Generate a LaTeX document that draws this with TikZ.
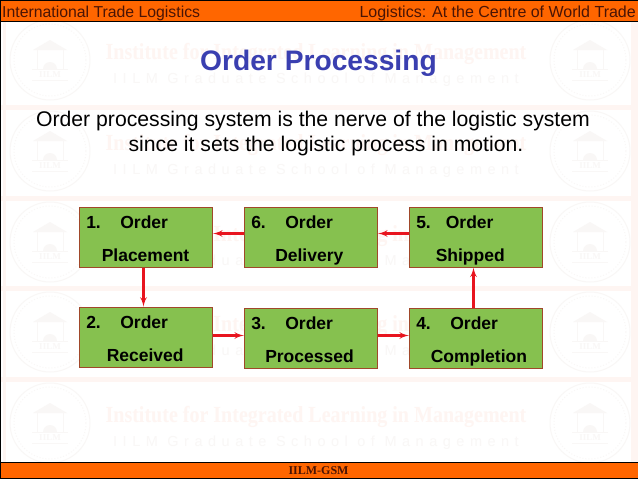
\documentclass[tikz,border=0pt]{standalone}
\usepackage{fontspec}
\setmainfont{Liberation Sans}
\newfontfamily\markfont{Liberation Serif}
\newfontfamily\markspaced[LetterSpace=38]{Liberation Sans}
\usetikzlibrary{arrows}
\definecolor{barorange}{HTML}{FF6600}
\definecolor{barink}{HTML}{4A1405}
\definecolor{titleblue}{HTML}{3A3FB0}
\definecolor{stagegreen}{HTML}{86C14F}
\definecolor{stageedge}{HTML}{A0482A}
\definecolor{flowred}{HTML}{E8141E}
\definecolor{markpink}{HTML}{FEF5F2}
\definecolor{markgrey}{HTML}{F9F7F6}
\tikzstyle{bar}=[draw=black, fill=barorange, line width=0.8pt]
\tikzstyle{stage}=[draw=stageedge, fill=stagegreen, line width=0.9pt, minimum width=133.5pt, minimum height=59.5pt, text width=119.5pt, inner xsep=7pt, inner ysep=0pt, align=left, font=\fontsize{17.5}{33}\selectfont\bfseries]
\tikzstyle{flow}=[->, draw=flowred, line width=2.2pt]
\tikzstyle{body}=[anchor=base, inner sep=0pt, font=\fontsize{21.2}{25}\selectfont]
\tikzstyle{barlabel}=[inner sep=0pt, text=barink, font=\fontsize{15.8}{18}\selectfont]
\newcommand{\stagetext}[4]{\rule{0pt}{15pt}#1\hspace{#2}Order\\\hspace*{#3}\smash{#4}}

\begin{document}
\begin{tikzpicture}[node distance=165pt,auto,>=latex']
    \useasboundingbox (0,0) rectangle (638pt,-479pt);
    \fill[white] (0,0) rectangle (638pt,-479pt);
    \foreach \y in {107,198,288,379}
        \fill[markpink] (0,-\y pt-2.5pt) rectangle (638pt,-\y pt+2.5pt);
    \fill[markpink] (3pt,-21pt) rectangle (6pt,-462pt);
    \fill[markpink] (631pt,-21pt) rectangle (638pt,-462pt);
    \foreach \y in {60,151,242,332,423} {
        \foreach \x in {50,590} {
            \begin{scope}[shift={(\x pt,-\y pt)}, draw=markgrey, line width=1pt]
                \draw (0,0) circle (40pt);
                \draw[dotted] (0,0) circle (36pt);
                \fill[markgrey] (-17pt,10pt) -- (0,20pt) -- (17pt,10pt) -- cycle;
                \fill[markgrey] (-7pt,-9pt) arc (180:0:7pt) -- cycle;
                \draw (-13pt,10pt) -- (-13pt,-9pt);
                \draw (13pt,10pt) -- (13pt,-9pt);
                \draw (-18pt,-9pt) -- (18pt,-9pt);
                \draw (-18pt,-20pt) -- (18pt,-20pt);
                \node[text=markgrey, inner sep=0pt, font=\markfont\bfseries\fontsize{9}{10}\selectfont] (logo\x\y) at (0,-15pt) {IILM};
            \end{scope}
        }
        \node[anchor=base, xscale=0.87, inner sep=0pt, text=markpink, font=\markfont\bfseries\fontsize{23}{26}\selectfont] (markname\y) at (316pt,-\y pt+1pt) {Institute for Integrated Learning in Management};
        \node[anchor=base, inner sep=0pt, text=markgrey, font=\markspaced\fontsize{14.5}{16}\selectfont] (markschool\y) at (316pt,-\y pt-23pt) {IILM Graduate School of Management};
    }
    \fill[black] (0,-21pt) rectangle (1pt,-462pt);
    \node [bar, minimum width=638pt, minimum height=20.5pt, inner sep=0pt] (topbar) at (319pt,-10.8pt) {};
    \node [bar, minimum width=638pt, minimum height=16pt, inner sep=0pt] (footbar) at (319pt,-470pt) {};
    \node [barlabel, anchor=base west] (topic) at (2pt,-17pt) {International Trade Logistics};
    \node [barlabel, anchor=base east, font=\fontsize{16}{18}\selectfont] (chapter) at (636pt,-17pt) {Logistics: At the Centre of World Trade};
    \node [anchor=base, inner sep=0pt, text=barink, font=\markfont\bfseries\fontsize{12}{14}\selectfont] (school) at (318.5pt,-474.5pt) {IILM-GSM};
    \node [anchor=base, inner sep=0pt, text=titleblue, font=\fontsize{28.2}{32}\selectfont\bfseries] (title) at (318.5pt,-70pt) {Order Processing};
    \node [body] (line1) at (313pt,-126.5pt) {Order processing system is the nerve of the logistic system};
    \node [body] (line2) at (326pt,-151.5pt) {since it sets the logistic process in motion.};
    \node [stage] (placement) at (146pt,-237.5pt) {\stagetext{1.}{19.5pt}{15.5pt}{Placement}};
    \node [stage] (delivery) [right of=placement] {\stagetext{6.}{19.5pt}{24pt}{Delivery}};
    \node [stage] (shipped) [right of=delivery] {\stagetext{5.}{15pt}{19.5pt}{Shipped}};
    \node [stage, minimum height=60pt] (received) at (146pt,-337pt) {\stagetext{2.}{19.5pt}{20.5pt}{Received}};
    \node [stage] (processed) at (311pt,-338.5pt) {\stagetext{3.}{19.5pt}{14pt}{Processed}};
    \node [stage] (completion) [right of=processed] {\stagetext{4.}{19.5pt}{14.5pt}{Completion}};
    \draw[flow] ([yshift=4pt]delivery.west) -- ([yshift=4pt]placement.east);
    \draw[flow] ([yshift=4pt]shipped.west) -- ([yshift=4pt]delivery.east);
    \draw[flow] ([xshift=-2.5pt]placement.south) -- ([xshift=-2.5pt]received.north);
    \draw[flow] ([yshift=1.5pt]received.east) -- ([yshift=3pt]processed.west);
    \draw[flow] ([yshift=3pt]processed.east) -- ([yshift=3pt]completion.west);
    \draw[flow] ([xshift=-2.5pt]completion.north) -- ([xshift=-2.5pt]shipped.south);
\end{tikzpicture}
\end{document}
